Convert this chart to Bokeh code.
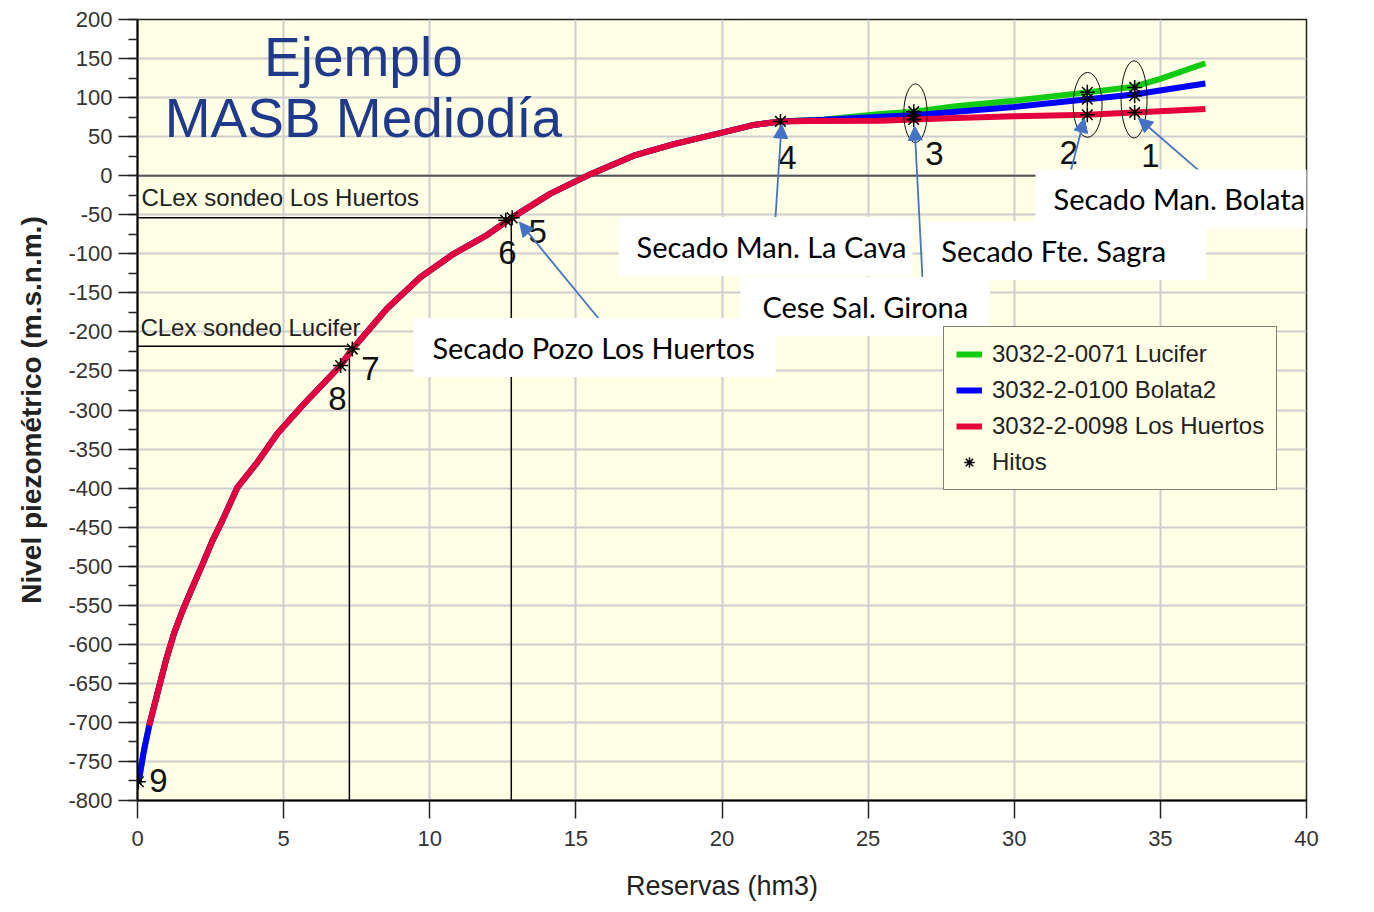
import math
from bokeh.plotting import figure
from bokeh.models import (Range1d, SingleIntervalTicker, Label, Arrow, NormalHead,
                          Legend, LegendItem, Span, PrintfTickFormatter)
from bokeh.embed import file_html
from bokeh.resources import INLINE

# ---------------- data ----------------
trunk_x = [0.03, 0.22, 0.40, 0.68, 0.97, 1.25, 1.54, 1.88, 2.23, 2.57, 2.91, 3.42, 4.10,
           4.79, 5.70, 6.95, 7.35, 8.54, 9.68, 10.82, 11.96, 12.76, 14.13, 15.50, 16.98,
           18.35, 20.04, 21.09, 22.00]
trunk_y = [-778, -736, -704, -663, -621, -586, -557, -527, -497, -467, -441, -399, -367,
           -330, -292, -243, -222, -170, -130, -100, -76, -55, -23, 2, 25.6,
           40.5, 55.5, 65, 69.5]

lucifer_tail_x = [23.5, 25.42, 26.56, 28.0, 30.0, 32.5, 34.1, 35.0, 36.54]
lucifer_tail_y = [72, 79, 82, 89, 96, 106.7, 114, 124, 144]
bolata_tail_x = [23.5, 25.42, 26.56, 28.0, 30.0, 32.5, 34.1, 36.54]
bolata_tail_y = [71.5, 75.5, 77.5, 82, 88, 98, 104, 118]
huertos_tail_x = [23.0, 25.42, 26.56, 28.0, 30.0, 32.5, 34.1, 36.54]
huertos_tail_y = [70, 70.4, 72, 74, 76, 78, 81, 85.3]

lucifer_x = trunk_x + lucifer_tail_x
lucifer_y = trunk_y + lucifer_tail_y
bolata_x = trunk_x + bolata_tail_x
bolata_y = trunk_y + bolata_tail_y
huertos_x = trunk_x[2:] + huertos_tail_x
huertos_y = trunk_y[2:] + huertos_tail_y

hitos_x = [34.12, 34.12, 34.12, 32.5, 32.5, 32.5, 26.56, 26.56, 26.56, 22.0, 12.82, 12.6, 7.35, 6.95, 0.03]
hitos_y = [113, 102.4, 81, 106.7, 98, 78, 82, 77, 72, 69.5, -54, -57, -222, -243, -776]

hito_names = ["1", "2", "3", "4", "5", "6", "7", "8", "9"]
hito_label_x = [34.66, 31.86, 27.27, 22.24, 13.69, 12.66, 7.97, 6.84, 0.72]
hito_label_y = [26.2, 30.1, 28.8, 23.7, -71.1, -98.0, -246.4, -284.8, -774.0]

ellipse_x = [26.62, 32.51, 34.10]
ellipse_y = [80.0, 90.7, 97.7]
ellipse_w = [0.80, 0.99, 0.89]
ellipse_h = [75, 83, 99]

clex_huertos = (12.79, -54.0)
clex_lucifer = (7.25, -218.3)

notes = ["Secado Pozo Los Huertos", "Secado Man. La Cava", "Cese Sal. Girona",
         "Secado Fte. Sagra", "Secado Man. Bolata"]
note_x = [9.44, 16.46, 20.63, 26.89, 30.73]
note_y = [-220.0, -90.7, -167.5, -95.8, -29.8]
note_pad_l = [19, 18, 22, 18, 18]
note_pad_r = [21, 6, 22, 40, 6]
arrow_x0 = [15.77, 21.83, 26.86, 31.48, 36.30]
arrow_y0 = [-182.5, -53.1, -131.2, -59.5, 7.1]
arrow_x1 = [13.07, 22.04, 26.59, 32.40, 34.25]
arrow_y1 = [-59.5, 66.0, 63.4, 73.6, 73.6]

# ---------------- figure ----------------
BG = "#FFFFE6"
p = figure(width=1366, height=904, x_range=Range1d(0, 40), y_range=Range1d(-800, 200),
           output_backend="svg", toolbar_location=None,
           min_border_left=137, min_border_right=60, min_border_top=19, min_border_bottom=104,
           background_fill_color=BG, border_fill_color="white",
           outline_line_color="#222222", outline_line_width=1.5)

p.xaxis.ticker = SingleIntervalTicker(interval=5, num_minor_ticks=0)
p.yaxis.ticker = SingleIntervalTicker(interval=50, num_minor_ticks=2)
p.yaxis.formatter = PrintfTickFormatter(format="%d")
for ax in (p.xaxis[0], p.yaxis[0]):
    ax.major_label_text_font = "Liberation Sans"
    ax.major_label_text_font_size = "22px"
    ax.major_label_text_color = "#333333"
    ax.axis_line_color = "black"
    ax.axis_line_width = 2
    ax.major_tick_line_color = "#222222"
    ax.major_tick_line_width = 1.5
    ax.minor_tick_line_color = "#222222"
    ax.minor_tick_line_width = 1.5
    ax.major_tick_in = 0
    ax.minor_tick_in = 0
    ax.axis_label_text_font = "Liberation Sans"
    ax.axis_label_text_color = "#222222"
    ax.axis_label_text_font_style = "normal"
p.yaxis.major_tick_out = 19
p.yaxis.minor_tick_out = 9
p.yaxis.major_label_standoff = 6
p.yaxis.axis_label = "Nivel piezométrico (m.s.n.m.)"
p.yaxis.axis_label_text_font_size = "28px"
p.yaxis.axis_label_text_font_style = "bold"
p.yaxis.axis_label_standoff = 18
p.xaxis.major_tick_out = 18
p.xaxis.minor_tick_line_color = None
p.xaxis.major_label_standoff = 12
p.xaxis.axis_label = "Reservas (hm3)"
p.xaxis.axis_label_text_font_size = "27px"
p.xaxis.axis_label_standoff = 22

p.xgrid.grid_line_color = "#CDCDCD"
p.ygrid.grid_line_color = "#CDCDCD"
p.xgrid.grid_line_width = 2
p.ygrid.grid_line_width = 2

p.add_layout(Span(location=0, dimension="width", line_color="#555555", line_width=2, level="underlay"))

# reference lines (CLex)
p.line([0, clex_huertos[0], clex_huertos[0]], [clex_huertos[1], clex_huertos[1], -800],
       line_color="black", line_width=1.5)
p.line([0, clex_lucifer[0], clex_lucifer[0]], [clex_lucifer[1], clex_lucifer[1], -800],
       line_color="black", line_width=1.5)

r_g = p.line(lucifer_x, lucifer_y, line_color="#12CC12", line_width=6)
r_b = p.line(bolata_x, bolata_y, line_color="#0000FF", line_width=6)
r_r = p.line(huertos_x, huertos_y, line_color="#E4003C", line_width=6)

p.ellipse(x=ellipse_x, y=ellipse_y, width=ellipse_w, height=ellipse_h,
          fill_color=None, line_color="#111111", line_width=1)

r_h = p.scatter(hitos_x, hitos_y, marker="asterisk", size=15, line_color="black", line_width=1.5)

for t, x, y in zip(hito_names, hito_label_x, hito_label_y):
    p.add_layout(Label(x=x, y=y, text=t, text_font="Liberation Sans", text_font_size="33px",
                       text_color="#111111", text_align="center", text_baseline="middle"))

p.add_layout(Label(x=0.14, y=-27.5, text="CLex sondeo Los Huertos", text_font="Liberation Sans",
                   text_font_size="24px", text_color="#222222", text_baseline="middle"))
p.add_layout(Label(x=0.10, y=-194.0, text="CLex sondeo Lucifer", text_font="Liberation Sans",
                   text_font_size="24px", text_color="#222222", text_baseline="middle"))

# title
p.add_layout(Label(x=7.73, y=152.0, text="Ejemplo", text_font="Liberation Sans",
                   text_font_size="55px", text_color="#1F3A8A", text_align="center",
                   text_baseline="middle"))
p.add_layout(Label(x=7.73, y=74.0, text="MASB Mediodía", text_font="Liberation Sans",
                   text_font_size="55px", text_color="#1F3A8A", text_align="center",
                   text_baseline="middle"))

# annotations
ARROW_C = "#4472C4"
for i in range(len(notes)):
    p.add_layout(Arrow(end=NormalHead(size=14, fill_color=ARROW_C, line_color=ARROW_C),
                       x_start=arrow_x0[i], y_start=arrow_y0[i], x_end=arrow_x1[i], y_end=arrow_y1[i],
                       line_color=ARROW_C, line_width=1.8))
    p.add_layout(Label(x=note_x[i], y=note_y[i], text=notes[i], text_font="Lato",
                       text_font_size="29px", text_color="black", text_align="left",
                       text_baseline="middle", background_fill_color="white",
                       padding=dict(left=note_pad_l[i], right=note_pad_r[i], top=12, bottom=12)))

legend = Legend(items=[LegendItem(label="3032-2-0071 Lucifer", renderers=[r_g]),
                       LegendItem(label="3032-2-0100 Bolata2", renderers=[r_b]),
                       LegendItem(label="3032-2-0098 Los Huertos", renderers=[r_r]),
                       LegendItem(label="Hitos", renderers=[r_h])],
                location=(806, 310), orientation="vertical",
                label_text_font="Liberation Sans", label_text_font_size="24px",
                label_text_color="#222222", glyph_width=26, glyph_height=30, label_height=30,
                spacing=6, padding=12, margin=0, label_standoff=10,
                border_line_color="black", border_line_width=1.5,
                background_fill_color=BG, background_fill_alpha=1.0)
p.add_layout(legend)

open("out.html", "w").write(file_html(p, INLINE))
